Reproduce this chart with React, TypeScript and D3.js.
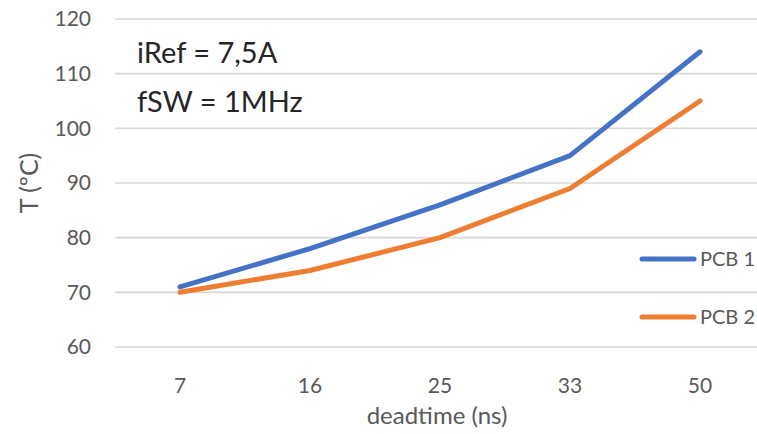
import React from "react";
import * as d3 from "d3";

const categories = ["7", "16", "25", "33", "50"];
const pcb1 = [71, 78, 86, 95, 114];
const pcb2 = [70, 74, 80, 89, 105];
const yTicks = [60, 70, 80, 90, 100, 110, 120];
const seriesNames = ["PCB 1", "PCB 2"];
const colors = ["#4472C4", "#ED7D31"];

const W = 757;
const H = 434;
const FONT = "Lato, 'Open Sans', sans-serif";

export default function App() {
  const x = d3.scaleBand<string>().domain(categories).range([115, 765]);
  const y = d3.scaleLinear().domain([60, 120]).range([347, 19]);
  const line = d3
    .line<number>()
    .x((_, i) => (x(categories[i]) as number) + x.bandwidth() / 2)
    .y((d) => y(d));
  const series = [pcb1, pcb2];
  const legendY = [259, 317];

  return (
    <svg
      width={W}
      height={H}
      style={{ position: "absolute", left: 0, top: 0, background: "#fff" }}
    >
      <rect x={0} y={0} width={W} height={H} fill="#fff" />
      {yTicks.map((t) => (
        <g key={t}>
          <line x1={115} x2={W} y1={y(t)} y2={y(t)} stroke="#d9d9d9" strokeWidth={1.6} />
          <text
            x={91}
            y={y(t)}
            dy="0.35em"
            textAnchor="end"
            fontFamily={FONT}
            fontSize={21}
            fill="#595959"
          >
            {t}
          </text>
        </g>
      ))}
      {categories.map((c) => (
        <text
          key={c}
          x={(x(c) as number) + x.bandwidth() / 2}
          y={393}
          textAnchor="middle"
          fontFamily={FONT}
          fontSize={21}
          fill="#595959"
        >
          {c}
        </text>
      ))}
      <text
        x={437}
        y={424}
        textAnchor="middle"
        fontFamily={FONT}
        fontSize={24}
        fill="#595959"
      >
        deadtime (ns)
      </text>
      <text
        transform={`translate(38,183) rotate(-90)`}
        textAnchor="middle"
        fontFamily={FONT}
        fontSize={25}
        fill="#595959"
      >
        T (ºC)
      </text>
      <text x={137} y={63} fontFamily={FONT} fontSize={29} fill="#262626">
        iRef = 7,5A
      </text>
      <text x={137} y={112} fontFamily={FONT} fontSize={29} fill="#262626">
        fSW = 1MHz
      </text>
      {series.map((s, i) => (
        <path
          key={i}
          d={line(s) as string}
          fill="none"
          stroke={colors[i]}
          strokeWidth={5}
          strokeLinecap="round"
          strokeLinejoin="round"
        />
      ))}
      {seriesNames.map((n, i) => (
        <g key={n}>
          <line
            x1={642}
            x2={694}
            y1={legendY[i]}
            y2={legendY[i]}
            stroke={colors[i]}
            strokeWidth={5}
            strokeLinecap="round"
          />
          <text
            x={700}
            y={legendY[i]}
            dy="0.35em"
            fontFamily={FONT}
            fontSize={20}
            fill="#595959"
          >
            {n}
          </text>
        </g>
      ))}
    </svg>
  );
}
